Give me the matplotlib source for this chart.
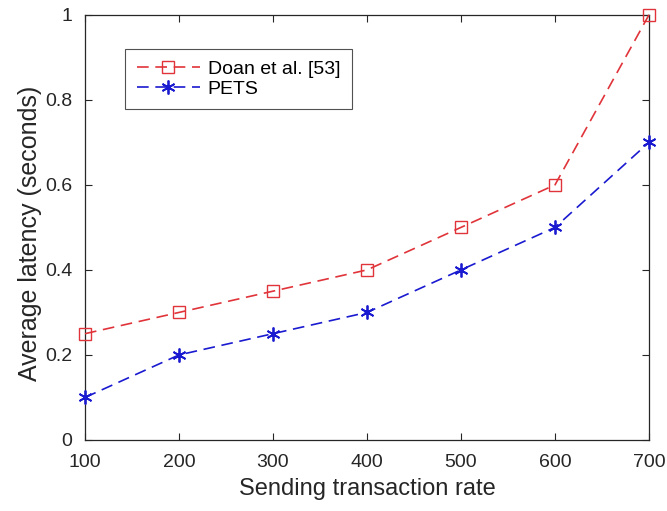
import matplotlib
matplotlib.use("Agg")
import matplotlib.pyplot as plt

rates = [100, 200, 300, 400, 500, 600, 700]
doan_latency = [0.25, 0.30, 0.35, 0.40, 0.50, 0.60, 1.00]
pets_latency = [0.10, 0.20, 0.25, 0.30, 0.40, 0.50, 0.70]
x_ticks = [100, 200, 300, 400, 500, 600, 700]
y_ticks = [0, 0.2, 0.4, 0.6, 0.8, 1]
y_tick_labels = ["0", "0.2", "0.4", "0.6", "0.8", "1"]

plt.rcParams['font.family'] = ['Liberation Sans', 'DejaVu Sans']

fig = plt.figure(figsize=(6.67, 5.11), dpi=100)
ax = fig.add_axes([0.1274, 0.139, 0.8456, 0.832])

ax.plot(rates, doan_latency, linestyle=(0, (7, 4)), color='#e0343a', lw=1.2,
        marker='s', markersize=8, markerfacecolor='none', markeredgewidth=1.0,
        label='Doan et al. [53]', clip_on=False, zorder=3)
ax.plot(rates, pets_latency, linestyle=(0, (7, 4)), color='#1a1ad0', lw=1.2,
        marker=(6, 2, 0), markersize=10, markeredgewidth=1.3,
        label='PETS', clip_on=False, zorder=3)

ax.set_xlim(100, 700)
ax.set_ylim(0, 1)
ax.set_xticks(x_ticks)
ax.set_xticklabels([str(t) for t in x_ticks])
ax.set_yticks(y_ticks)
ax.set_yticklabels(y_tick_labels)
ax.tick_params(direction='in', top=True, right=True, length=5, width=0.8,
               labelsize=14, colors='#262626')
ax.tick_params(axis='x', pad=10)
ax.tick_params(axis='y', pad=9)
for s in ax.spines.values():
    s.set_linewidth(0.9)
    s.set_color('#262626')

ax.set_xlabel('Sending transaction rate', fontsize=17, color='#262626', labelpad=5)
ax.set_ylabel('Average latency (seconds)', fontsize=18, color='#262626')
ax.yaxis.set_label_coords(-0.076, 0.485)

leg = ax.legend(loc='upper left', bbox_to_anchor=(0.071, 0.92), fontsize=14,
                frameon=True, fancybox=False, edgecolor='#262626',
                handlelength=3.25, borderpad=0.6, labelspacing=0.1,
                handletextpad=0.4, borderaxespad=0)
leg.get_frame().set_linewidth(0.8)

fig.savefig('out.png', dpi=100, facecolor='white')
